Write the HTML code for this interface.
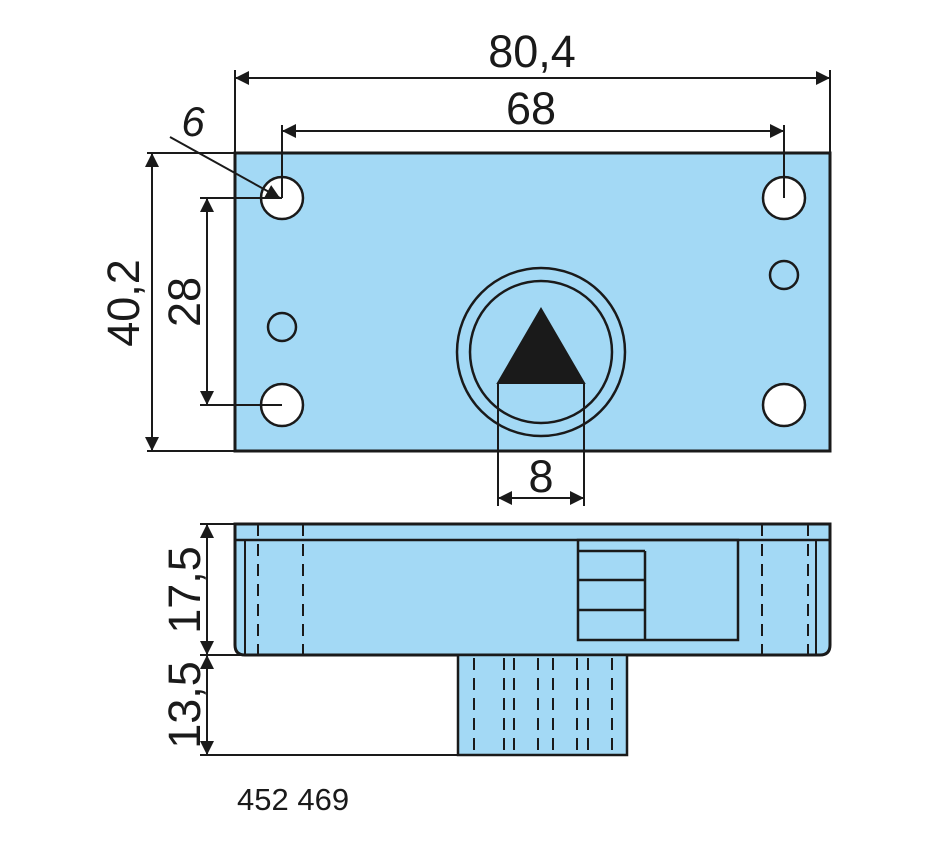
<!DOCTYPE html>
<html><head><meta charset="utf-8"><style>html,body{margin:0;padding:0;background:#fff}svg{display:block}</style></head>
<body>
<svg width="950" height="860" viewBox="0 0 950 860" xmlns="http://www.w3.org/2000/svg">
<defs>
<marker id="a" viewBox="0 0 10 10" refX="10" refY="5" markerWidth="20" markerHeight="14" markerUnits="userSpaceOnUse" orient="auto-start-reverse"><path d="M0,0 L10,5 L0,10 z" fill="#1a1a1a"/></marker>
</defs>
<g stroke="#1a1a1a" fill="none" stroke-width="2">
<rect x="235" y="153" width="595" height="298" fill="#a3d9f5" stroke-width="3"/>
<g fill="#fff" stroke-width="2.5">
<circle cx="282" cy="198" r="21"/><circle cx="784" cy="198" r="21"/>
<circle cx="282" cy="405" r="21"/><circle cx="784" cy="405" r="21"/>
</g>
<circle cx="282" cy="327" r="14" stroke-width="2.5"/>
<circle cx="784" cy="275" r="14" stroke-width="2.5"/>
<circle cx="541" cy="352" r="84" stroke-width="2.5"/>
<circle cx="541" cy="352" r="71" stroke-width="2.5"/>
<path d="M541,309 L498,383 L584,383 z" fill="#1a1a1a"/>
<line x1="235" y1="70" x2="235" y2="153"/><line x1="830" y1="70" x2="830" y2="153"/>
<line x1="235" y1="78" x2="830" y2="78" marker-start="url(#a)" marker-end="url(#a)"/>
<line x1="282" y1="125" x2="282" y2="198"/><line x1="784" y1="125" x2="784" y2="198"/>
<line x1="282" y1="131" x2="784" y2="131" marker-start="url(#a)" marker-end="url(#a)"/>
<line x1="147" y1="153" x2="235" y2="153"/><line x1="147" y1="451" x2="345" y2="451"/>
<line x1="152" y1="153" x2="152" y2="451" marker-start="url(#a)" marker-end="url(#a)"/>
<line x1="200" y1="198" x2="282" y2="198"/><line x1="200" y1="405" x2="282" y2="405"/>
<line x1="207" y1="198" x2="207" y2="405" marker-start="url(#a)" marker-end="url(#a)"/>
<line x1="170" y1="137" x2="280" y2="198" marker-end="url(#a)"/>
<line x1="498" y1="383" x2="498" y2="506"/><line x1="584" y1="383" x2="584" y2="506"/>
<line x1="498" y1="498" x2="584" y2="498" marker-start="url(#a)" marker-end="url(#a)"/>
<path d="M235,524 H830 V645 Q830,655 820,655 H245 Q235,655 235,645 Z" fill="#a3d9f5" stroke-width="3"/>
<line x1="235" y1="540" x2="830" y2="540" stroke-width="2.5"/>
<line x1="245" y1="540" x2="245" y2="655"/><line x1="816" y1="540" x2="816" y2="655"/>
<g stroke-dasharray="12,8">
<line x1="258" y1="524" x2="258" y2="655"/><line x1="303" y1="524" x2="303" y2="655"/>
<line x1="762" y1="524" x2="762" y2="655"/><line x1="808" y1="524" x2="808" y2="655"/>
</g>
<rect x="578" y="540" width="160" height="100" stroke-width="2.5"/>
<line x1="645" y1="551" x2="645" y2="640" stroke-width="2.5"/>
<line x1="578" y1="551" x2="645" y2="551" stroke-width="2.5"/>
<line x1="578" y1="580" x2="645" y2="580" stroke-width="2.5"/>
<line x1="578" y1="610" x2="645" y2="610" stroke-width="2.5"/>
<rect x="458" y="655" width="169" height="100" fill="#a3d9f5" stroke-width="2.5"/>
<g stroke-dasharray="12,8">
<line x1="474" y1="658" x2="474" y2="755"/><line x1="504" y1="658" x2="504" y2="755"/>
<line x1="514" y1="658" x2="514" y2="755"/><line x1="538" y1="658" x2="538" y2="755"/>
<line x1="553" y1="658" x2="553" y2="755"/><line x1="577" y1="658" x2="577" y2="755"/>
<line x1="588" y1="658" x2="588" y2="755"/><line x1="612" y1="658" x2="612" y2="755"/>
</g>
<line x1="200" y1="524" x2="235" y2="524"/><line x1="200" y1="655" x2="245" y2="655"/>
<line x1="200" y1="755" x2="458" y2="755"/>
<line x1="207" y1="524" x2="207" y2="655" marker-start="url(#a)" marker-end="url(#a)"/>
<line x1="207" y1="655" x2="207" y2="755" marker-start="url(#a)" marker-end="url(#a)"/>
</g>
<g font-family="Liberation Sans, sans-serif" fill="#1a1a1a" text-anchor="middle">
<text x="532" y="67" font-size="45">80,4</text>
<text x="531" y="124" font-size="45">68</text>
<text x="193" y="136" font-size="42" font-style="italic">6</text>
<text x="541" y="492" font-size="45">8</text>
<text transform="translate(139,303) rotate(-90)" font-size="45">40,2</text>
<text transform="translate(200,302) rotate(-90)" font-size="45">28</text>
<text transform="translate(200,590) rotate(-90)" font-size="45">17,5</text>
<text transform="translate(200,705) rotate(-90)" font-size="45">13,5</text>
<text x="237" y="810" font-size="31" text-anchor="start">452 469</text>
</g>
</svg>
</body></html>
